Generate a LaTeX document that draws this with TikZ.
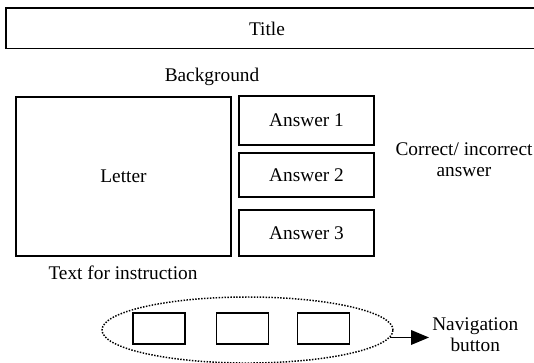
\documentclass[tikz,border=0pt]{standalone}
\usepackage{fontspec}
\setmainfont{Liberation Serif}
\usetikzlibrary{arrows.meta,shapes.geometric}
\begin{document}
\begin{tikzpicture}[x=0.75pt,y=-0.75pt,
  txt/.style={font=\fontsize{14.5pt}{16pt}\selectfont, inner sep=0pt},
  box/.style={draw, line width=1.3pt, inner sep=0pt, font=\fontsize{14.5pt}{16pt}\selectfont},
  navbox/.style={box, minimum width=39pt, minimum height=23.25pt},
  ansbox/.style={box, minimum width=101.25pt},
  dotline/.style={line width=1.1pt, dash pattern=on 1.1pt off 1.1pt},
  navarrow/.style={line width=1.1pt, -{Triangle[length=13.5pt,width=11pt]}}
]
\clip (0,0) rectangle (534,362);
% title bar
\node[box, minimum width=404.25pt, minimum height=30.375pt] (titlebox) at (275.5,28.25) {};
\node[txt] (title) at (267,29) {Title};
% background label
\node[txt] (bg) at (212,77) {Background};
% letter
\node[box, minimum width=161.25pt, minimum height=119.25pt] (letter) at (123.5,176.5) {Letter};
% answers
\node[ansbox, minimum height=36.75pt] (a1) at (306.5,120.5) {Answer 1};
\node[ansbox, minimum height=33pt] (a2) at (306.5,175) {Answer 2};
\node[ansbox, minimum height=34.5pt] (a3) at (306.5,233) {Answer 3};
% right label
\node[txt, align=center] (ci) at (464,160) {Correct/ incorrect\\answer};
% instruction
\node[txt] (instr) at (123,273) {Text for instruction};
% navigation
\node[ellipse, draw, dotline, minimum width=218.25pt, minimum height=49.5pt, inner sep=0pt] (ell) at (247.5,330) {};
\node[navbox] (n1) at (159,328.5) {};
\node[navbox] (n2) at (242.5,328.5) {};
\node[navbox] (n3) at (323.5,328.5) {};
\node[txt, align=center, anchor=west, inner xsep=2.25pt] (nav) at (429,335) {Navigation\\button};
\draw[navarrow] (ell.-3) -- (ell.-3 -| nav.west);
\end{tikzpicture}
\end{document}
